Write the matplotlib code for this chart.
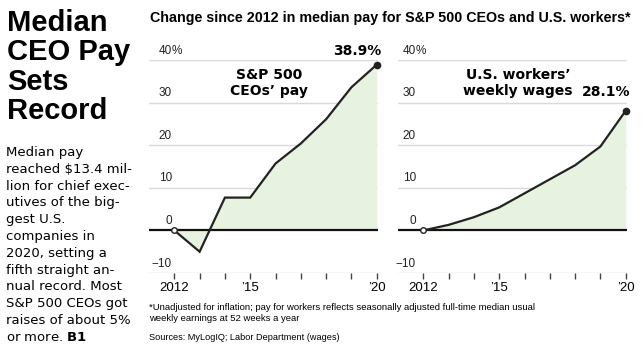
import matplotlib
matplotlib.use("Agg")
import matplotlib.pyplot as plt
import matplotlib.transforms as mtransforms

years = [2012, 2013, 2014, 2015, 2016, 2017, 2018, 2019, 2020]
ceo_pay = [0, -5.0, 7.7, 7.7, 15.7, 20.4, 26.1, 33.6, 38.9]
worker_wages = [0, 1.3, 3.1, 5.4, 8.7, 12.0, 15.3, 19.7, 28.1]
ytick_vals = [-10, 0, 10, 20, 30, 40]
ytick_labels = ["\u221210", "0", "10", "20", "30", "40"]
xtick_labels = {2012: "2012", 2015: "\u201915", 2020: "\u201920"}

NARROW = ["Liberation Sans", "DejaVu Sans"]
LINE = "#222222"
FILL = "#e7f3e0"
GRID = "#d9d9d9"

fig = plt.figure(figsize=(6.43, 3.49), dpi=100)
W, H = 643, 349


def panel(left_px, lab_px, values, label, label_xy, end_label, end_xy):
    ax = fig.add_axes([left_px / W, (H - 273) / H, 229 / W, 213 / H])
    ax.set_xlim(2011.0, 2020.05)
    ax.set_ylim(-10, 40)
    for s in ax.spines.values():
        s.set_visible(False)
    ax.set_yticks([])
    for v in ytick_vals:
        if v == 0:
            ax.axhline(0, color="#111111", lw=1.6, zorder=3)
        else:
            ax.axhline(v, color=GRID, lw=1.0, zorder=1)
    tr = mtransforms.blended_transform_factory(ax.transAxes, ax.transData)
    lx = (lab_px - left_px) / 229
    for v, t in zip(ytick_vals, ytick_labels):
        ax.text(lx, v + 0.8, t, transform=tr, ha="right", va="bottom",
                fontsize=8.5, family=NARROW, color="#222222")
    ax.text(lx, 40.8, "%", transform=tr, ha="left", va="bottom",
            fontsize=8.5, family=NARROW, color="#222222")
    ax.fill_between(years, values, 0, color=FILL, lw=0, zorder=2)
    ax.plot(years, values, color=LINE, lw=1.6, zorder=4, solid_joinstyle="miter")
    ax.plot([years[0]], [values[0]], "o", ms=4, mfc="white", mec=LINE, mew=1, zorder=5)
    ax.plot([years[-1]], [values[-1]], "o", ms=4.5, color=LINE, zorder=5, clip_on=False)
    ax.set_xticks(years)
    ax.set_xticklabels([xtick_labels.get(y, "") for y in years], family=NARROW, fontsize=9.5)
    ax.tick_params(axis="x", length=4, width=1, color="#444444", direction="out", pad=2.5)
    ax.text(label_xy[0], label_xy[1], label, ha="center", va="center",
            fontsize=10, fontweight="bold", linespacing=1.25)
    ax.text(end_xy[0], end_xy[1], end_label, ha="right", va="center",
            fontsize=10, fontweight="bold", clip_on=False)
    return ax


panel(149, 172, ceo_pay, "S&P 500\nCEOs\u2019 pay", (2015.75, 34.6), "38.9%", (2020.2, 42.1))
panel(398, 416, worker_wages, "U.S. workers\u2019\nweekly wages", (2015.75, 34.6), "28.1%", (2020.2, 32.6))

fig.text(7 / W, 1 - 9 / H, "Median\nCEO Pay\nSets\nRecord", ha="left", va="top",
         fontsize=21, fontweight="bold", family=NARROW, linespacing=1.06)
fig.text(6 / W, 1 - 146 / H,
         "Median pay\nreached $13.4 mil-\nlion for chief exec-\nutives of the big-\ngest U.S.\n"
         "companies in\n2020, setting a\nfifth straight an-\nnual record. Most\n"
         "S&P 500 CEOs got\nraises of about 5%\nor more. $\\bf{B1}$",
         ha="left", va="top", fontsize=9.5, linespacing=1.38)
fig.text(150 / W, 1 - 18 / H,
         "Change since 2012 in median pay for S&P 500 CEOs and U.S. workers*",
         ha="left", va="center", fontsize=10.3, fontweight="bold", family=NARROW)
fig.text(149 / W, 1 - 313 / H,
         "*Unadjusted for inflation; pay for workers reflects seasonally adjusted full-time median usual\n"
         "weekly earnings at 52 weeks a year",
         ha="left", va="center", fontsize=6.8, family=NARROW, linespacing=1.3)
fig.text(149 / W, 1 - 338 / H, "Sources: MyLogIQ; Labor Department (wages)",
         ha="left", va="center", fontsize=6.6, family=NARROW)

fig.savefig("out.png", dpi=100)
